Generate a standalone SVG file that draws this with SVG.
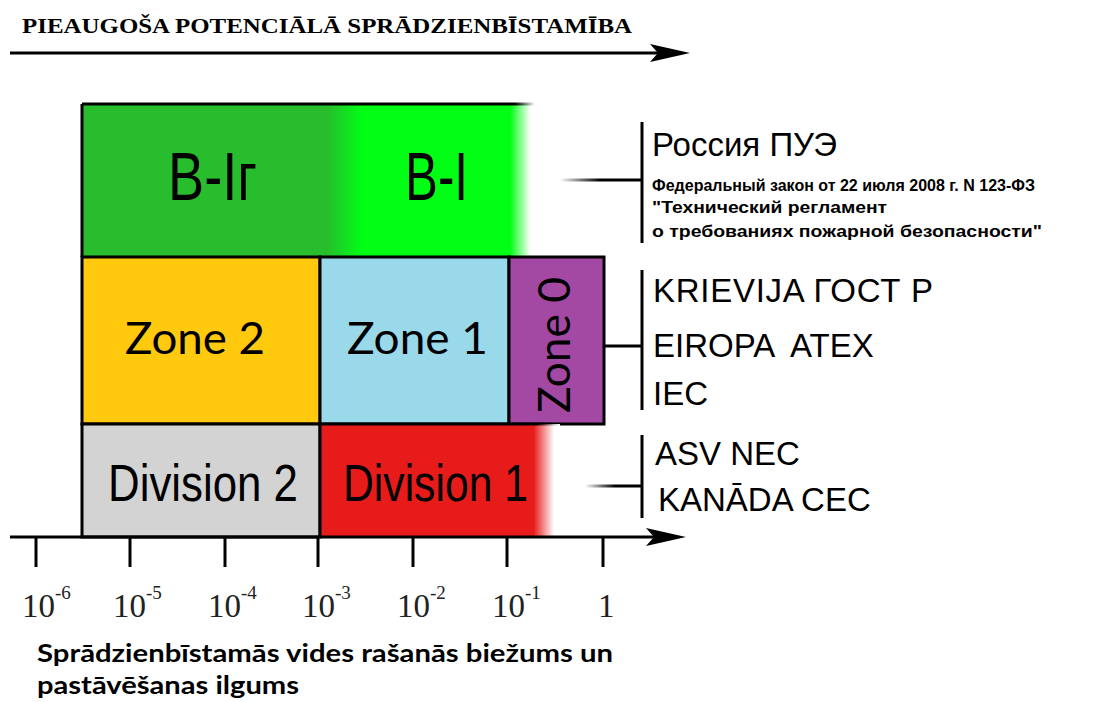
<svg xmlns="http://www.w3.org/2000/svg" width="1120" height="702" viewBox="0 0 1120 702">
<defs>
<linearGradient id="gGreen" x1="82" y1="0" x2="535" y2="0" gradientUnits="userSpaceOnUse">
<stop offset="0" stop-color="#27bd2d"/>
<stop offset="0.54" stop-color="#27bd2d"/>
<stop offset="0.62" stop-color="#00ff14"/>
<stop offset="0.945" stop-color="#00ff14"/>
<stop offset="0.99" stop-color="#ffffff"/>
</linearGradient>
<linearGradient id="gRed" x1="320" y1="0" x2="560" y2="0" gradientUnits="userSpaceOnUse">
<stop offset="0" stop-color="#e81b1b"/>
<stop offset="0.89" stop-color="#e81b1b"/>
<stop offset="0.975" stop-color="#ffffff"/>
</linearGradient>
<linearGradient id="gTopLine" x1="82" y1="0" x2="535" y2="0" gradientUnits="userSpaceOnUse">
<stop offset="0" stop-color="#000"/>
<stop offset="0.955" stop-color="#000"/>
<stop offset="1" stop-color="#000" stop-opacity="0"/>
</linearGradient>
<linearGradient id="gDivLine" x1="320" y1="0" x2="560" y2="0" gradientUnits="userSpaceOnUse">
<stop offset="0" stop-color="#000"/>
<stop offset="0.9" stop-color="#000"/>
<stop offset="1" stop-color="#000" stop-opacity="0"/>
</linearGradient>
<linearGradient id="gFade1" x1="560" y1="0" x2="600" y2="0" gradientUnits="userSpaceOnUse">
<stop offset="0" stop-color="#000" stop-opacity="0"/>
<stop offset="1" stop-color="#000"/>
</linearGradient>
<linearGradient id="gFade3" x1="585" y1="0" x2="615" y2="0" gradientUnits="userSpaceOnUse">
<stop offset="0" stop-color="#000" stop-opacity="0"/>
<stop offset="1" stop-color="#000"/>
</linearGradient>
</defs>
<style>
.box{stroke:#000;stroke-width:3}
.ln{stroke:#000;stroke-width:3;fill:none}
.big{font-family:"Liberation Sans",Arial,sans-serif;fill:#000}
.zone{font-family:Lato,"Open Sans",sans-serif;font-size:44px;fill:#000}
.std{font-family:"Liberation Sans",Arial,sans-serif;font-size:33px;fill:#000}
.law{font-family:"Liberation Sans",Arial,sans-serif;font-size:17px;font-weight:bold;fill:#000}
.tick{font-family:"Liberation Serif","Times New Roman",serif;font-size:33px;fill:#222}
.sup{font-family:"Liberation Serif","Times New Roman",serif;font-size:19px;fill:#222}
.cap{font-family:Lato,"Open Sans",sans-serif;font-size:24px;font-weight:bold;fill:#000}
.title{font-family:"Liberation Serif","Times New Roman",serif;font-size:22px;font-weight:bold;fill:#000}
</style>
<rect width="1120" height="702" fill="#fff"/>

<g id="title">
<text class="title" x="22" y="33" textLength="610" lengthAdjust="spacingAndGlyphs">PIEAUGOŠA POTENCIĀLĀ SPRĀDZIENBĪSTAMĪBA</text>
</g>

<g id="node-b">
<rect x="82" y="104" width="453" height="153" fill="url(#gGreen)"/>
<line x1="82" y1="104" x2="535" y2="104" stroke="url(#gTopLine)" stroke-width="3"/>
<line x1="82" y1="104" x2="82" y2="257" class="ln"/>
<text class="big" x="168" y="200" font-size="68" textLength="89" lengthAdjust="spacingAndGlyphs">B-Iг</text>
<text class="big" x="405" y="200" font-size="68" textLength="63" lengthAdjust="spacingAndGlyphs">B-I</text>
</g>

<g id="node-zone2">
<rect x="82" y="257" width="238" height="167" fill="#ffc90e" class="box"/>
<text class="zone" x="125" y="354" textLength="140" lengthAdjust="spacingAndGlyphs">Zone 2</text>
</g>
<g id="node-zone1">
<rect x="320" y="257" width="189" height="167" fill="#99d9ea" class="box"/>
<text class="zone" x="347" y="354" textLength="141" lengthAdjust="spacingAndGlyphs">Zone 1</text>
</g>
<g id="node-zone0">
<rect x="509" y="257" width="95" height="167" fill="#a349a4" class="box"/>
<text class="zone" transform="translate(570,345) rotate(-90)" x="0" y="0" text-anchor="middle" textLength="136" lengthAdjust="spacingAndGlyphs">Zone 0</text>
</g>

<g id="node-div2">
<rect x="82" y="424" width="238" height="113" fill="#d3d3d3" class="box"/>
<text class="big" x="108" y="501" font-size="52" textLength="190" lengthAdjust="spacingAndGlyphs">Division 2</text>
</g>
<g id="node-div1">
<rect x="320" y="424" width="240" height="113" fill="url(#gRed)"/>
<line x1="320" y1="424" x2="560" y2="424" stroke="url(#gDivLine)" stroke-width="3"/>
<line x1="320" y1="424" x2="320" y2="537" class="ln"/>
<text class="big" x="343" y="501" font-size="52" textLength="185" lengthAdjust="spacingAndGlyphs">Division 1</text>
</g>

<g id="connectors">
<line x1="10" y1="53" x2="660" y2="53" class="ln"/>
<path d="M690,53 L650,44 L658,53 L650,62 Z" fill="#000"/>
<line x1="10" y1="537" x2="655" y2="537" class="ln"/>
<path d="M686,537 L646,528 L654,537 L646,546 Z" fill="#000"/>
<g class="ticks">
<line x1="36" y1="537" x2="36" y2="567" class="ln"/>
<line x1="130" y1="537" x2="130" y2="567" class="ln"/>
<line x1="225" y1="537" x2="225" y2="567" class="ln"/>
<line x1="318" y1="537" x2="318" y2="567" class="ln"/>
<line x1="413" y1="537" x2="413" y2="567" class="ln"/>
<line x1="507" y1="537" x2="507" y2="567" class="ln"/>
<line x1="603" y1="537" x2="603" y2="567" class="ln"/>
</g>
<line x1="560" y1="180" x2="642" y2="180" stroke="url(#gFade1)" stroke-width="3"/>
<line x1="642" y1="122" x2="642" y2="243" class="ln"/>
<line x1="604" y1="346" x2="642" y2="346" class="ln"/>
<line x1="642" y1="270" x2="642" y2="410" class="ln"/>
<line x1="585" y1="486" x2="642" y2="486" stroke="url(#gFade3)" stroke-width="3"/>
<line x1="642" y1="435" x2="642" y2="518" class="ln"/>
</g>

<g id="node-russia">
<text class="std" x="652" y="156">Россия ПУЭ</text>
<text class="law" x="652" y="191" font-size="18" textLength="383" lengthAdjust="spacingAndGlyphs">Федеральный закон от 22 июля 2008 г. N 123-ФЗ</text>
<text class="law" x="652" y="213" textLength="235" lengthAdjust="spacingAndGlyphs">"Технический регламент</text>
<text class="law" x="652" y="237" textLength="390" lengthAdjust="spacingAndGlyphs">о требованиях пожарной безопасности"</text>
</g>
<g id="node-iec">
<text class="std" x="653" y="302" textLength="280" lengthAdjust="spacing">KRIEVIJA ГОСТ Р</text>
<text class="std" x="653" y="357" xml:space="preserve">EIROPA  ATEX</text>
<text class="std" x="653" y="405">IEC</text>
</g>
<g id="node-nec">
<text class="std" x="655" y="465" font-size="32">ASV NEC</text>
<text class="std" x="658" y="511" font-size="32">KANĀDA CEC</text>
</g>

<g id="axis-labels">
<text class="tick" x="22" y="617">10</text><text class="sup" x="55" y="599">-6</text>
<text class="tick" x="113" y="617">10</text><text class="sup" x="146" y="599">-5</text>
<text class="tick" x="208" y="617">10</text><text class="sup" x="241" y="599">-4</text>
<text class="tick" x="302" y="617">10</text><text class="sup" x="335" y="599">-3</text>
<text class="tick" x="397" y="617">10</text><text class="sup" x="430" y="599">-2</text>
<text class="tick" x="492" y="617">10</text><text class="sup" x="525" y="599">-1</text>
<text class="tick" x="598" y="617">1</text>
</g>

<g id="caption">
<text class="cap" x="37" y="662" textLength="576" lengthAdjust="spacingAndGlyphs">Sprādzienbīstamās vides rašanās biežums un</text>
<text class="cap" x="37" y="694" textLength="262" lengthAdjust="spacingAndGlyphs">pastāvēšanas ilgums</text>
</g>
</svg>
